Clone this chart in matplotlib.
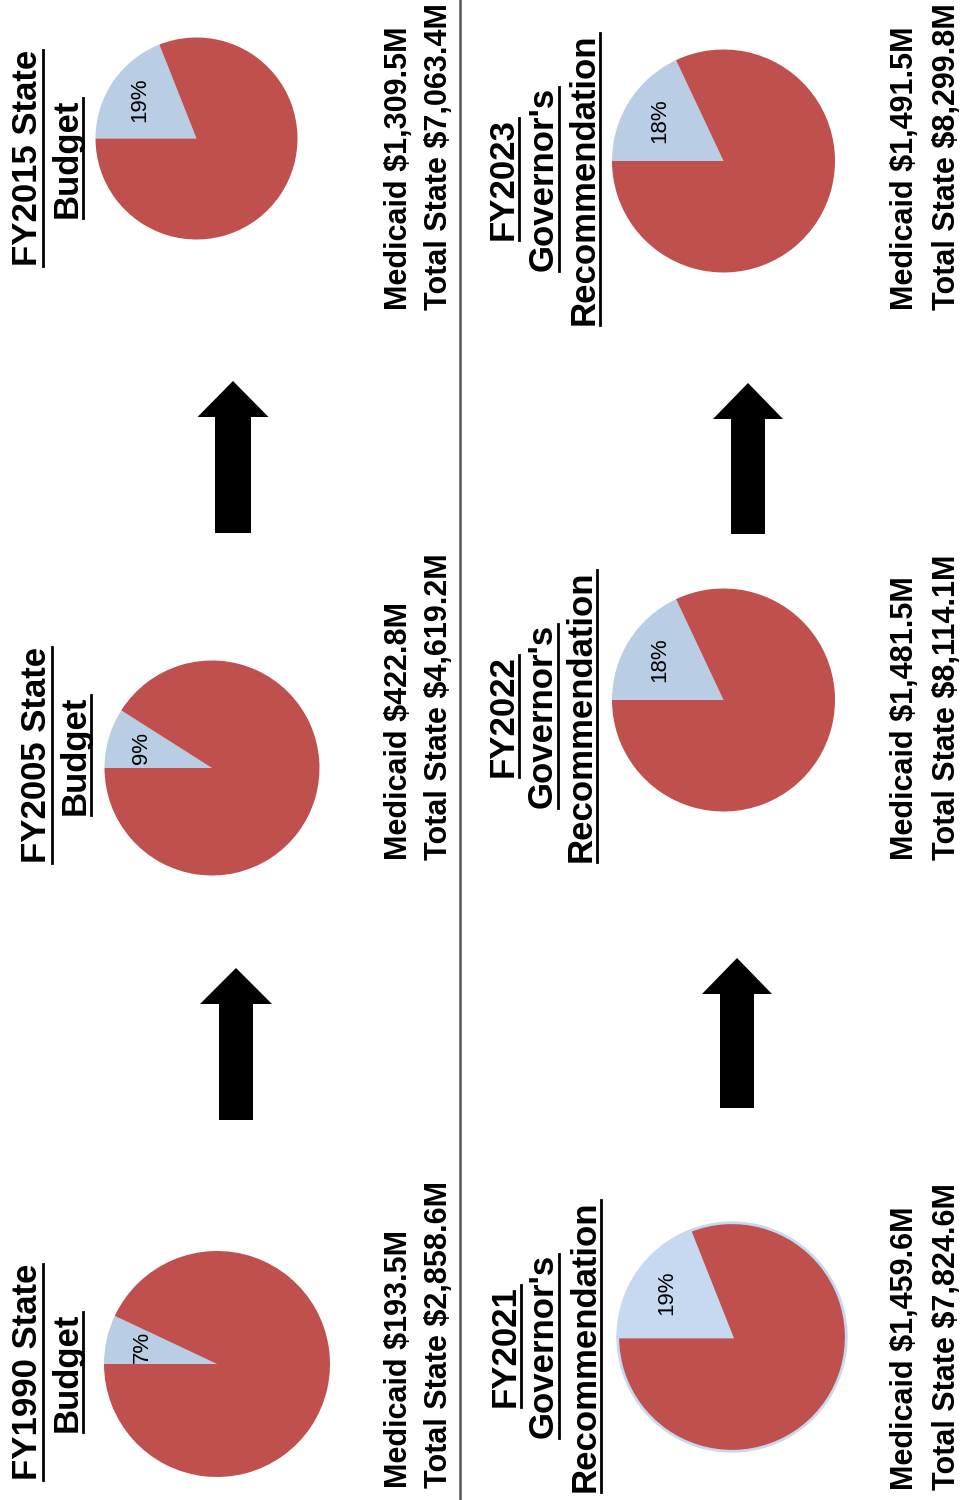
import matplotlib
matplotlib.use("Agg")
import numpy as np
import matplotlib.pyplot as plt
from matplotlib.patches import FancyArrow

# datos del grafico
years = ["FY1990", "FY2005", "FY2015", "FY2021", "FY2022", "FY2023"]
title_lines = [
    ["FY1990 State", "Budget"],
    ["FY2005 State", "Budget"],
    ["FY2015 State", "Budget"],
    ["FY2021", "Governor's", "Recommendation"],
    ["FY2022", "Governor's", "Recommendation"],
    ["FY2023", "Governor's", "Recommendation"],
]
medicaid = [193.5, 422.8, 1309.5, 1459.6, 1481.5, 1491.5]
total_state = [2858.6, 4619.2, 7063.4, 7824.6, 8114.1, 8299.8]
pct_medicaid = [7, 9, 19, 19, 18, 18]

W, H = 964, 1500
red = "#C0504D"
blue = "#B9CDE5"
blue_2021 = "#C6D9F1"

# layout en pixeles (centro x, centro y, radio)
pie_pos = [(217, 1364, 113), (212, 768, 107.5), (196.5, 138.5, 101),
           (732, 1337, 116), (723.5, 700, 111.5), (723.5, 161, 111.5)]
title_base = [[37, 77], [46, 85], [37, 77],
              [515, 553, 595], [513, 552, 591], [513, 553, 594]]
title_cy = [1372, 755, 158, 1346, 716, 179]
info_base = [(407, 447), (407, 447), (407, 447),
             (913, 955), (913, 955), (913, 955)]
info_start = [1488, 860, 310, 1490, 860, 310]
arrows = [(236, 1120, 968, 34, 72), (233, 533, 381, 36, 71),
          (737, 1108, 958, 34, 70), (748, 534, 383, 34, 70)]

fig = plt.figure(figsize=(W / 100, H / 100), dpi=100)
ax = fig.add_axes([0, 0, 1, 1])
ax.set_xlim(0, W)
ax.set_ylim(H, 0)
ax.axis("off")

font = "Liberation Sans"

# linea separadora
ax.plot([460, 460], [0, H], color="#555555", lw=1.8)

title_texts = []
for i in range(len(years)):
    cx, cy, r = pie_pos[i]
    pax = fig.add_axes([(cx - r) / W, 1 - (cy + r) / H, 2 * r / W, 2 * r / H])
    p = pct_medicaid[i]
    c_blue = blue_2021 if years[i] == "FY2021" else blue
    wedges, _ = pax.pie([p, 100 - p], colors=[c_blue, red], startangle=180,
                        counterclock=False, radius=1 if i != 3 else 0.985)
    if years[i] == "FY2021":
        for w in wedges:
            w.set_edgecolor(blue_2021)
            w.set_linewidth(2)
    pax.set_xlim(-1, 1)
    pax.set_ylim(-1, 1)
    pax.axis("off")
    # etiqueta de porcentaje
    ang = np.deg2rad(180 - p * 3.6 / 2)
    d = 0.68
    pax.text(d * np.cos(ang), d * np.sin(ang), f"{p}%", rotation=90,
             ha="center", va="center", fontsize=16, family=font)

    # titulos
    for j, line in enumerate(title_lines[i]):
        t = ax.text(title_base[i][j], title_cy[i], line, rotation=90,
                    rotation_mode="anchor", ha="center", va="baseline",
                    fontsize=25, fontweight="bold", family=font)
        title_texts.append((t, title_base[i][j]))

    # montos
    ax.text(info_base[i][0], info_start[i], f"Medicaid ${medicaid[i]:,.1f}M",
            rotation=90, rotation_mode="anchor", ha="left", va="baseline",
            fontsize=22, fontweight="bold", family=font)
    ax.text(info_base[i][1], info_start[i], f"Total State ${total_state[i]:,.1f}M",
            rotation=90, rotation_mode="anchor", ha="left", va="baseline",
            fontsize=22, fontweight="bold", family=font)

# flechas
for x, y0, y1, sw, hw in arrows:
    ax.add_patch(FancyArrow(x, y0, 0, y1 - y0, width=sw, head_width=hw,
                            head_length=36, length_includes_head=True,
                            color="black", lw=0))

# subrayado de titulos
fig.canvas.draw()
rend = fig.canvas.get_renderer()
inv = ax.transData.inverted()
for t, xb in title_texts:
    bb = t.get_window_extent(rend)
    (_, ya), (_, yb) = inv.transform([(bb.x0, bb.y0), (bb.x1, bb.y1)])
    ax.plot([xb + 6, xb + 6], [ya, yb], color="black", lw=2)

fig.savefig("out.png", dpi=100)
